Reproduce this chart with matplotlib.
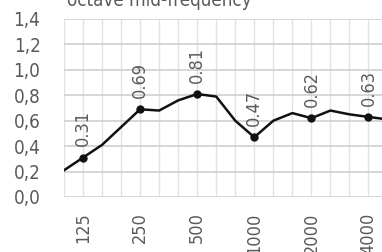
import matplotlib.pyplot as plt

# --- Datos: bandas de 1/3 de octava y valores ---
bandas = [100, 125, 160, 200, 250, 315, 400, 500, 630, 800,
          1000, 1250, 1600, 2000, 2500, 3150, 4000, 5000]
valores = [0.21, 0.31, 0.41, 0.55, 0.69, 0.68, 0.76, 0.81, 0.79, 0.60,
           0.47, 0.60, 0.66, 0.62, 0.68, 0.65, 0.63, 0.61]
etiquetas_x = ["125", "250", "500", "1000", "2000", "4000"]
marcados = [125, 250, 500, 1000, 2000, 4000]
etiquetas_y = ["0,0", "0,2", "0,4", "0,6", "0,8", "1,0", "1,2", "1,4"]
titulo = "octave mid-frequency"

gris = "#5a5a5a"
fuente = dict(family="DejaVu Sans", stretch="condensed")

idx = list(range(len(bandas)))
idx_marc = [bandas.index(b) for b in marcados]
val_marc = [valores[i] for i in idx_marc]

fig = plt.figure(figsize=(3.82, 2.52), dpi=100)
ax = fig.add_axes([64/382, 55/252, 318/382, 178/252])

# Rejilla
for i in idx:
    ax.axvline(i, color="#e2e2e2", lw=1, zorder=0)
for k in range(8):
    ax.axhline(k * 0.2, color="#cfcfcf", lw=1.2, zorder=0)

ax.plot(idx, valores, color="#111111", lw=1.8, zorder=3)
ax.plot(idx_marc, val_marc, "o", color="#111111", ms=5, zorder=4)

for i, v in zip(idx_marc, val_marc):
    ax.annotate(f"{v:.2f}", (i, v), xytext=(0, 8), textcoords="offset points",
                rotation=90, ha="center", va="bottom", color=gris,
                fontsize=13, **fuente)

ax.set_xlim(0, 16.71)
ax.set_ylim(0, 1.4)
ax.set_xticks(idx_marc)
ax.set_xticklabels(etiquetas_x, rotation=90, color=gris, fontsize=13, **fuente)
ax.set_yticks([k * 0.2 for k in range(8)])
ax.set_yticklabels(etiquetas_y, color=gris, fontsize=13.5, **fuente)
ax.tick_params(axis="x", length=0, pad=11)
ax.tick_params(axis="y", length=0, pad=17)
for s in ax.spines.values():
    s.set_visible(False)

fig.text(67/382, 1 - 6/252, titulo, color=gris, fontsize=13.5,
         ha="left", va="baseline", **fuente)

fig.savefig("out.png", dpi=100)
